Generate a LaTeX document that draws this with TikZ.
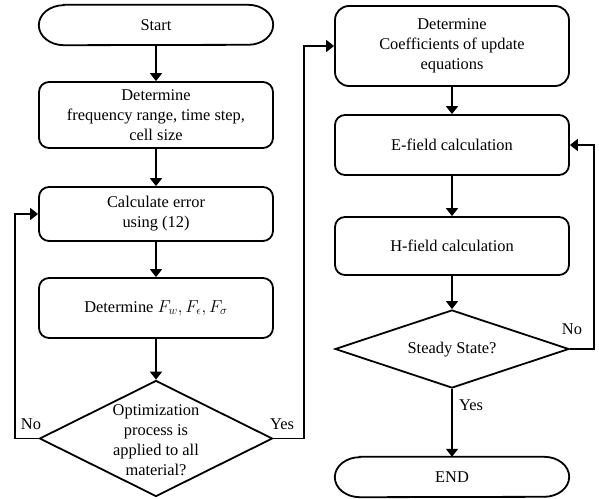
\documentclass[tikz,border=0pt]{standalone}
\usepackage{fontspec}
\setmainfont{Liberation Serif}
\usetikzlibrary{shapes.geometric,arrows.meta}
\newcommand\myfs{\fontsize{16.4}{20}\selectfont}
\begin{document}
\begin{tikzpicture}[x=1pt,y=-1pt,
  box/.style={draw, line width=1.8pt, rounded corners=10pt, minimum width=234pt, align=center, inner sep=0pt, font=\myfs},
  term/.style={minimum width=234pt, minimum height=40pt, inner sep=0pt, font=\myfs},
  termline/.style={line width=1.8pt},
  dia/.style={draw, diamond, line width=1.8pt, inner sep=0pt},
  txt/.style={align=center, font=\myfs, inner sep=0pt},
  arr/.style={line width=1.8pt, -{Triangle[width=12pt,length=8pt]}},
  lbl/.style={font=\myfs, inner sep=0pt}]
\useasboundingbox (0,0) rectangle (599,498);
% left column
\node[term] (start) at (156,25) {Start};
\draw[termline] ([xshift=25pt]start.north west) -- ([xshift=-25pt]start.north east)
  arc[start angle=90,end angle=-90,x radius=25pt,y radius=20pt]
  -- ([xshift=25pt]start.south west)
  arc[start angle=270,end angle=90,x radius=25pt,y radius=20pt] -- cycle;
\node[box, minimum height=66pt] (det1) at (156,115) {Determine\\frequency range, time step,\\cell size};
\node[box, minimum height=54pt] (calc) at (156,214) {Calculate error\\using (12)};
\node[box, minimum height=60pt] (detF) at (156,308) {Determine $F_w, F_\epsilon, F_\sigma$};
\node[dia, minimum width=233pt, minimum height=116pt] (opt) at (156,438.5) {};
\node[txt] (optt) at (156,440) {Optimization\\process is\\applied to all\\material?};
% right column
\node[box, rounded corners=14pt, minimum height=80pt] (coef) at (452,46) {Determine\\Coefficients of update\\equations};
\node[box, minimum height=60pt] (ef) at (452,145) {E-field calculation};
\node[box, minimum height=58pt] (hf) at (452,246) {H-field calculation};
\node[dia, minimum width=234pt, minimum height=78pt] (ss) at (452,349) {};
\node[txt] (sst) at (452,350) {Steady State?};
\node[term] (end) at (452,477) {END};
\draw[termline] ([xshift=25pt]end.north west) -- ([xshift=-25pt]end.north east)
  arc[start angle=90,end angle=-90,x radius=25pt,y radius=20pt]
  -- ([xshift=25pt]end.south west)
  arc[start angle=270,end angle=90,x radius=25pt,y radius=20pt] -- cycle;
% connectors
\draw[arr] (start.south) -- (det1.north);
\draw[arr] (det1.south) -- (calc.north);
\draw[arr] (calc.south) -- (detF.north);
\draw[arr] (detF.south) -- (opt.north);
\draw[arr] (opt.west) -- (15,438.5) |- (calc.west);
\draw[arr] (opt.east) -- (304,438.5) |- (coef.west);
\draw[arr] (coef.south) -- (ef.north);
\draw[arr] (ef.south) -- (hf.north);
\draw[arr] (hf.south) -- (ss.north);
\draw[arr] (ss.east) -- (594,349) |- (ef.east);
\draw[arr] (ss.south) -- (end.north);
% labels
\node[lbl] (no1) at (31,424) {No};
\node[lbl] (yes1) at (282,424) {Yes};
\node[lbl] (no2) at (572,329) {No};
\node[lbl] (yes2) at (471,405) {Yes};
\end{tikzpicture}
\end{document}
